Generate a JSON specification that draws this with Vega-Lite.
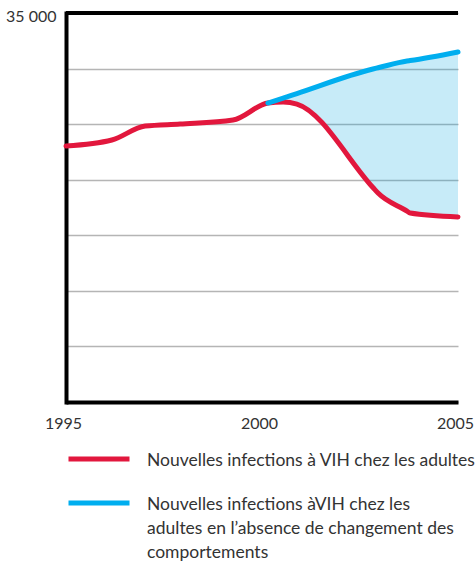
{
  "$schema": "https://vega.github.io/schema/vega-lite/v6.json",
  "width": 392,
  "height": 389,
  "autosize": {"type": "none"},
  "padding": {"left": 66, "top": 13, "right": 18, "bottom": 161},
  "background": "white",
  "config": {
    "view": {"stroke": null},
    "font": "Lato",
    "style": {"guide-label": {"lineHeight": 24, "dy": -7}}
  },
  "data": {
    "values": [
      {"year": 1995, "red": 23030, "blue": null},
      {"year": 1996.17, "red": 23570, "blue": null},
      {"year": 1997.02, "red": 24830, "blue": null},
      {"year": 1997.91, "red": 25010, "blue": null},
      {"year": 1999.26, "red": 25370, "blue": null},
      {"year": 2000.15, "red": 26900, "blue": 26900},
      {"year": 2000.54, "red": 26990, "blue": 27340},
      {"year": 2000.89, "red": 26810, "blue": 27750},
      {"year": 2002.83, "red": 19300, "blue": 29960},
      {"year": 2002.96, "red": 18800, "blue": 30070},
      {"year": 2003.7, "red": 17180, "blue": 30680},
      {"year": 2003.78, "red": 17000, "blue": 30720},
      {"year": 2005, "red": 16650, "blue": 31490}
    ]
  },
  "layer": [
    {
      "transform": [{"filter": "isValid(datum.blue)"}],
      "mark": {"type": "area", "fill": "#00A3E0", "fillOpacity": 0.22, "interpolate": "monotone"},
      "encoding": {
        "x": {
          "field": "year", "type": "quantitative",
          "scale": {"domain": [1995, 2005], "nice": false, "zero": false},
          "axis": {
            "values": [1995, 2000, 2005], "format": "d", "grid": false, "ticks": false,
            "domainWidth": 4, "domainColor": "black", "labelFontSize": 16,
            "labelPadding": 20, "labelColor": "#333333", "title": null, "labelFlush": false,
            "labelOffset": -3, "labelFont": "Lato"
          }
        },
        "y": {
          "field": "red", "type": "quantitative",
          "scale": {"domain": [0, 35000], "nice": false},
          "axis": {
            "values": [0, 5000, 10000, 15000, 20000, 25000, 30000, 35000],
            "grid": true, "gridColor": "#B5B5B5", "gridWidth": 1.5, "ticks": false,
            "domainColor": "black", "domainWidth": 4, "domainCap": "square",
            "labelExpr": "datum.value == 35000 ? '35 000' : ''",
            "labelFontSize": 16, "labelColor": "#333333", "labelPadding": 10,
            "labelOffset": 10, "title": null, "labelFont": "Lato"
          }
        },
        "y2": {"field": "blue"}
      }
    },
    {
      "data": {"values": [{"v": 35000}]},
      "mark": {"type": "rule", "strokeWidth": 4, "color": "black"},
      "encoding": {"y": {"field": "v", "type": "quantitative", "title": null}}
    },
    {
      "transform": [
        {"fold": ["red", "blue"], "as": ["serie", "value"]},
        {"filter": "isValid(datum.value)"}
      ],
      "mark": {"type": "line", "strokeWidth": 5, "strokeCap": "round", "strokeJoin": "round", "interpolate": "monotone"},
      "encoding": {
        "x": {"field": "year", "type": "quantitative", "title": null},
        "y": {"field": "value", "type": "quantitative", "title": null},
        "color": {
          "field": "serie", "type": "nominal",
          "scale": {"domain": ["red", "blue"], "range": ["#E2173D", "#00AEEF"]},
          "legend": {
            "orient": "none", "legendX": 0, "legendY": 413, "direction": "vertical",
            "title": null, "symbolType": "stroke", "symbolSize": 3721, "symbolStrokeWidth": 5,
            "labelFontSize": 17.5, "labelColor": "#333333", "labelOffset": 15,
            "labelLimit": 400, "labelBaseline": "top", "rowPadding": -13, "padding": 0,
            "labelFont": "Lato",
            "labelExpr": "datum.value == 'red' ? 'Nouvelles infections à VIH chez les adultes' : ['Nouvelles infections àVIH chez les', 'adultes en l’absence de changement des', 'comportements']"
          }
        }
      }
    }
  ]
}
